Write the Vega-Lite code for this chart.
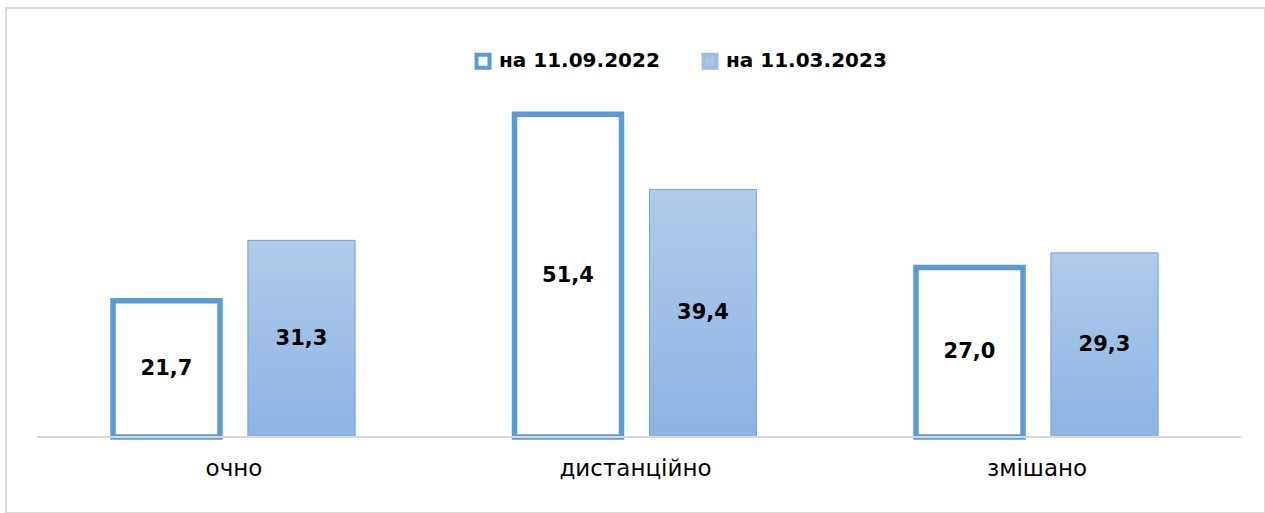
{
  "$schema": "https://vega.github.io/schema/vega-lite/v6.json",
  "autosize": "none",
  "padding": {"left": 6, "top": 8, "right": 0, "bottom": 0},
  "width": 1259,
  "height": 505,
  "background": "white",
  "config": {
    "view": {"stroke": "#D9D9D9", "strokeWidth": 2},
    "font": "DejaVu Sans",
    "locale": {"number": {"decimal": ",", "thousands": " ", "grouping": [3], "currency": ["", ""]}}
  },
  "data": {"values": [
    {"category": "очно", "series": "на 11.09.2022", "value": 21.7},
    {"category": "очно", "series": "на 11.03.2023", "value": 31.3},
    {"category": "дистанційно", "series": "на 11.09.2022", "value": 51.4},
    {"category": "дистанційно", "series": "на 11.03.2023", "value": 39.4},
    {"category": "змішано", "series": "на 11.09.2022", "value": 27.0},
    {"category": "змішано", "series": "на 11.03.2023", "value": 29.3}
  ]},
  "encoding": {
    "x": {
      "field": "category", "type": "nominal",
      "sort": ["очно", "дистанційно", "змішано"],
      "scale": {"paddingInner": 0.3973, "paddingOuter": 0.2665},
      "axis": {"title": null, "orient": "bottom", "offset": -76, "domain": false, "ticks": false, "labelFontSize": 23, "labelColor": "#000000", "labelPadding": 20, "labelAngle": 0, "labelFont": "DejaVu Sans", "labelFontWeight": "normal"}
    },
    "xOffset": {
      "field": "series", "type": "nominal",
      "sort": ["на 11.09.2022", "на 11.03.2023"],
      "scale": {"domain": ["на 11.09.2022", "на 11.03.2023"], "paddingInner": 0.2074, "paddingOuter": 0}
    }
  },
  "layer": [
    {
      "mark": {"type": "bar"},
      "encoding": {
        "y": {"field": "value", "type": "quantitative", "scale": {"domain": [-12.1, 68.31], "nice": false, "zero": false}, "axis": null},
        "y2": {"datum": 0},
        "fill": {
          "field": "series", "type": "nominal",
          "scale": {"domain": ["на 11.09.2022", "на 11.03.2023"], "range": ["#FFFFFF", "#A9C6E8"]},
          "legend": {"title": null, "orient": "none", "legendX": 467, "legendY": 43, "direction": "horizontal", "symbolType": "square", "symbolSize": 169, "symbolStrokeWidth": 4, "labelFontSize": 20, "labelFontWeight": "bold", "labelColor": "#000000", "labelOffset": 6, "columnPadding": 35, "labelLimit": 400, "labelFont": "DejaVu Sans"}
        },
        "stroke": {
          "field": "series", "type": "nominal",
          "scale": {"domain": ["на 11.09.2022", "на 11.03.2023"], "range": ["#5B9BD5", "#9DBDE5"]},
          "legend": {"title": null, "orient": "none", "legendX": 467, "legendY": 43, "direction": "horizontal", "symbolType": "square", "symbolSize": 169, "symbolStrokeWidth": 4, "labelFontSize": 20, "labelFontWeight": "bold", "labelColor": "#000000", "labelOffset": 6, "columnPadding": 35, "labelLimit": 400, "labelFont": "DejaVu Sans"}
        },
        "strokeWidth": {"condition": {"test": "datum.series === 'на 11.09.2022'", "value": 5.5}, "value": 1}
      }
    },
    {
      "transform": [{"filter": "datum.series === 'на 11.03.2023'"}],
      "mark": {
        "type": "bar",
        "fill": {"gradient": "linear", "x1": 0, "y1": 0, "x2": 0, "y2": 1, "stops": [{"offset": 0, "color": "#B0CBEA"}, {"offset": 1, "color": "#8DB3E2"}]},
        "stroke": "#79A8DC",
        "strokeWidth": 1
      },
      "encoding": {
        "y": {"field": "value", "type": "quantitative", "scale": {"domain": [-12.1, 68.31], "nice": false, "zero": false}, "axis": null},
        "y2": {"datum": 0}
      }
    },
    {
      "data": {"values": [{"base": 0}]},
      "mark": {"type": "rule", "color": "#D9D9D9", "strokeWidth": 2},
      "encoding": {
        "x": {"datum": "очно", "bandPosition": -0.314},
        "x2": {"datum": "змішано", "bandPosition": 1.343},
        "xOffset": null,
        "y": {"field": "base", "type": "quantitative", "scale": {"domain": [-12.1, 68.31], "nice": false, "zero": false}, "axis": null}
      }
    },
    {
      "mark": {"type": "text", "fontSize": 21, "fontWeight": "bold", "color": "#000000", "baseline": "middle", "font": "DejaVu Sans"},
      "encoding": {
        "y": {"field": "value", "type": "quantitative", "scale": {"domain": [-24.2, 136.62], "nice": false, "zero": false}, "axis": null},
        "text": {"field": "value", "type": "quantitative", "format": ".1f"}
      }
    }
  ],
  "resolve": {"scale": {"y": "independent"}}
}
